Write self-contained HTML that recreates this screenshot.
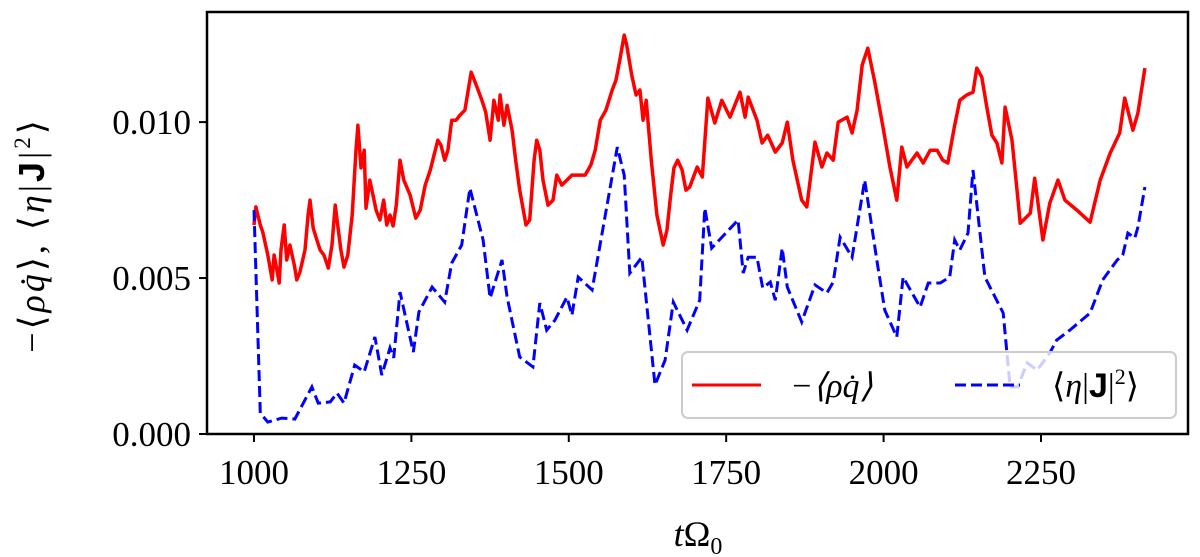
<!DOCTYPE html>
<html><head><meta charset="utf-8"><style>
body{margin:0;background:#fff;}
svg{display:block;font-family:"Liberation Serif",serif;}
</style></head><body>
<svg id="chart" width="1200" height="557" viewBox="0 0 1200 557">
<g id="plot"></g>
</svg>
<script>
const redT=[1000,1003,1010,1014,1022,1029,1032,1037,1040,1043,1048,1052,1057,1064,1068,1073,1081,1086,1089,1094,1100,1105,1111,1118,1124,1129,1133,1138,1143,1149,1156,1162,1165,1170,1175,1178,1184,1189,1194,1200,1206,1211,1216,1221,1226,1232,1238,1248,1257,1264,1272,1280,1286,1292,1297,1303,1308,1314,1321,1327,1335,1345,1353,1362,1368,1375,1381,1388,1391,1397,1402,1410,1416,1422,1432,1438,1445,1449,1454,1459,1467,1475,1481,1489,1497,1505,1515,1526,1535,1542,1550,1559,1569,1575,1581,1588,1592,1600,1607,1613,1618,1623,1631,1640,1650,1656,1661,1667,1673,1680,1686,1692,1704,1712,1721,1732,1743,1756,1772,1780,1785,1799,1807,1816,1828,1839,1847,1856,1870,1878,1891,1902,1910,1920,1928,1942,1950,1958,1966,1975,1986,1999,2010,2021,2029,2037,2053,2063,2074,2085,2094,2102,2113,2121,2132,2142,2148,2156,2164,2172,2180,2188,2193,2204,2213,2217,2233,2240,2253,2264,2277,2288,2307,2328,2344,2360,2375,2383,2396,2404,2415];
const redV=[0.00670,0.00728,0.00670,0.00647,0.00574,0.00494,0.00574,0.00519,0.00484,0.00590,0.00670,0.00558,0.00606,0.00542,0.00494,0.00519,0.00590,0.00702,0.00750,0.00660,0.00622,0.00590,0.00574,0.00532,0.00606,0.00734,0.00670,0.00590,0.00535,0.00574,0.00702,0.00910,0.00990,0.00853,0.00910,0.00724,0.00814,0.00766,0.00718,0.00686,0.00750,0.00670,0.00702,0.00667,0.00734,0.00878,0.00814,0.00766,0.00692,0.00718,0.00798,0.00846,0.00894,0.00942,0.00926,0.00878,0.00910,0.01006,0.01006,0.01022,0.01038,0.01160,0.01119,0.01070,0.01032,0.00942,0.01070,0.01006,0.01087,0.00990,0.01054,0.00974,0.00872,0.00782,0.00670,0.00686,0.00878,0.00942,0.00910,0.00814,0.00734,0.00750,0.00830,0.00798,0.00814,0.00830,0.00830,0.00830,0.00862,0.00910,0.01006,0.01038,0.01103,0.01135,0.01199,0.01279,0.01247,0.01151,0.01087,0.01103,0.01006,0.01070,0.00878,0.00702,0.00606,0.00654,0.00750,0.00853,0.00878,0.00846,0.00782,0.00792,0.00856,0.00824,0.01077,0.00997,0.01070,0.01016,0.01096,0.01016,0.01080,0.01006,0.00933,0.00958,0.00904,0.00933,0.01000,0.00878,0.00750,0.00728,0.00936,0.00856,0.00901,0.00878,0.01000,0.01016,0.00965,0.01038,0.01183,0.01237,0.01128,0.00984,0.00856,0.00750,0.00920,0.00856,0.00901,0.00869,0.00910,0.00910,0.00878,0.00869,0.00990,0.01070,0.01087,0.01096,0.01173,0.01144,0.01048,0.00958,0.00933,0.00869,0.01048,0.00942,0.00760,0.00676,0.00708,0.00820,0.00622,0.00740,0.00814,0.00750,0.00718,0.00679,0.00814,0.00901,0.00965,0.01077,0.00974,0.01029,0.01173];
const blueT=[1000,1010,1022,1044,1065,1092,1102,1121,1132,1143,1160,1175,1192,1203,1216,1222,1232,1253,1262,1283,1303,1314,1330,1343,1364,1375,1394,1402,1422,1443,1454,1465,1478,1497,1505,1515,1537,1577,1588,1597,1616,1637,1653,1666,1688,1708,1716,1727,1769,1777,1785,1799,1808,1820,1828,1839,1847,1870,1891,1910,1920,1931,1950,1970,1990,2002,2021,2031,2058,2071,2090,2105,2113,2121,2134,2142,2161,2190,2201,2213,2228,2244,2264,2275,2296,2328,2348,2371,2380,2388,2399,2404,2415];
const blueV=[0.00718,0.00067,0.00038,0.00051,0.00048,0.00151,0.00099,0.00103,0.00131,0.00099,0.00221,0.00199,0.00311,0.00189,0.00276,0.00244,0.00455,0.00263,0.00391,0.00471,0.00423,0.00548,0.00606,0.00788,0.00622,0.00436,0.00558,0.00439,0.00247,0.00215,0.00420,0.00333,0.00365,0.00439,0.00381,0.00503,0.00462,0.00920,0.00830,0.00516,0.00567,0.00157,0.00237,0.00423,0.00333,0.00429,0.00724,0.00596,0.00686,0.00516,0.00567,0.00567,0.00468,0.00487,0.00429,0.00596,0.00471,0.00359,0.00478,0.00452,0.00487,0.00631,0.00567,0.00814,0.00548,0.00397,0.00311,0.00503,0.00407,0.00484,0.00484,0.00503,0.00622,0.00590,0.00644,0.00846,0.00503,0.00388,0.00151,0.00151,0.00228,0.00205,0.00260,0.00301,0.00333,0.00388,0.00494,0.00558,0.00574,0.00644,0.00628,0.00663,0.00792];
const xTicks=[1000,1250,1500,1750,2000,2250];
const yTicks=[0,0.005,0.010];
const yTickLabels=["0.000","0.005","0.010"];

const L=207,R=1188,T=12,B=434;
const X0=925.4,X1=2483.5,Y0=0,Y1=0.01353;
function sx(t){return L+(t-X0)/(X1-X0)*(R-L);}
function sy(v){return B-(v-Y0)/(Y1-Y0)*(B-T);}
const NS="http://www.w3.org/2000/svg";
const g=document.getElementById('plot');
function mk(tag,attrs,parent){const e=document.createElementNS(NS,tag);for(const k in attrs)e.setAttribute(k,attrs[k]);(parent||g).appendChild(e);return e;}

function pathOf(ts,vs){return ts.map((t,i)=>(i?'L':'M')+sx(t).toFixed(1)+','+sy(vs[i]).toFixed(1)).join('');}
const red=mk('path',{d:pathOf(redT,redV),fill:'none',stroke:'#ff0000','stroke-width':3.5,'stroke-linejoin':'round'});


const blue=mk('path',{d:pathOf(blueT,blueV),fill:'none',stroke:'#0000ff','stroke-width':3,'stroke-dasharray':'11,5'});



// legend
const leg=mk('g',{});


mk('rect',{x:682,y:352,width:494,height:66,rx:6,fill:'rgba(255,255,255,0.8)',stroke:'#cccccc','stroke-width':2},leg);
mk('line',{x1:692,y1:385,x2:761,y2:385,stroke:'#ff0000','stroke-width':3},leg);
const lt1=mk('text',{x:790,y:397,'font-size':34,'font-style':'italic'},leg);
lt1.textContent='−⟨ρq̇⟩';


mk('line',{x1:955,y1:385,x2:1020,y2:385,stroke:'#0000ff','stroke-width':3,'stroke-dasharray':'11,5'},leg);
const lt2=mk('text',{x:1052,y:397,'font-size':34},leg);
lt2.innerHTML='⟨<tspan font-style="italic">η</tspan>|<tspan font-family="Liberation Sans" font-weight="bold">J</tspan>|<tspan font-size="22" dy="-13">2</tspan><tspan dy="13">⟩</tspan>';



// axes frame
const fr=mk('rect',{x:L,y:T,width:R-L,height:B-T,fill:'none',stroke:'#000','stroke-width':2.5});


xTicks.forEach(t=>{
  const x=sx(t);
  const tk=mk('line',{x1:x,y1:B,x2:x,y2:B+8,stroke:'#000','stroke-width':2});
  
  
  const tx=mk('text',{x:x,y:B+50,'font-size':35,'text-anchor':'middle'});
  tx.textContent=String(t);
  
  
});
yTicks.forEach((v,i)=>{
  const y=sy(v);
  const tk=mk('line',{x1:L-8,y1:y,x2:L,y2:y,stroke:'#000','stroke-width':2});
  
  
  const tx=mk('text',{x:L-16,y:y+12,'font-size':35,'text-anchor':'end'});
  tx.textContent=yTickLabels[i];
  
  
});
const xl=mk('text',{x:698,y:546,'font-size':36,'text-anchor':'middle'});
xl.innerHTML='<tspan font-style="italic">t</tspan>Ω<tspan font-size="24" dy="8">0</tspan>';


const yl=mk('text',{x:0,y:0,'font-size':36,'text-anchor':'middle','letter-spacing':'3',transform:'translate(44,235) rotate(-90)'});
yl.innerHTML='−⟨<tspan font-style="italic">ρq̇</tspan>⟩,  ⟨<tspan font-style="italic">η</tspan>|<tspan font-family="Liberation Sans" font-weight="bold">J</tspan>|<tspan font-size="23" dy="-14">2</tspan><tspan dy="14">⟩</tspan>';


</script>
</body></html>
